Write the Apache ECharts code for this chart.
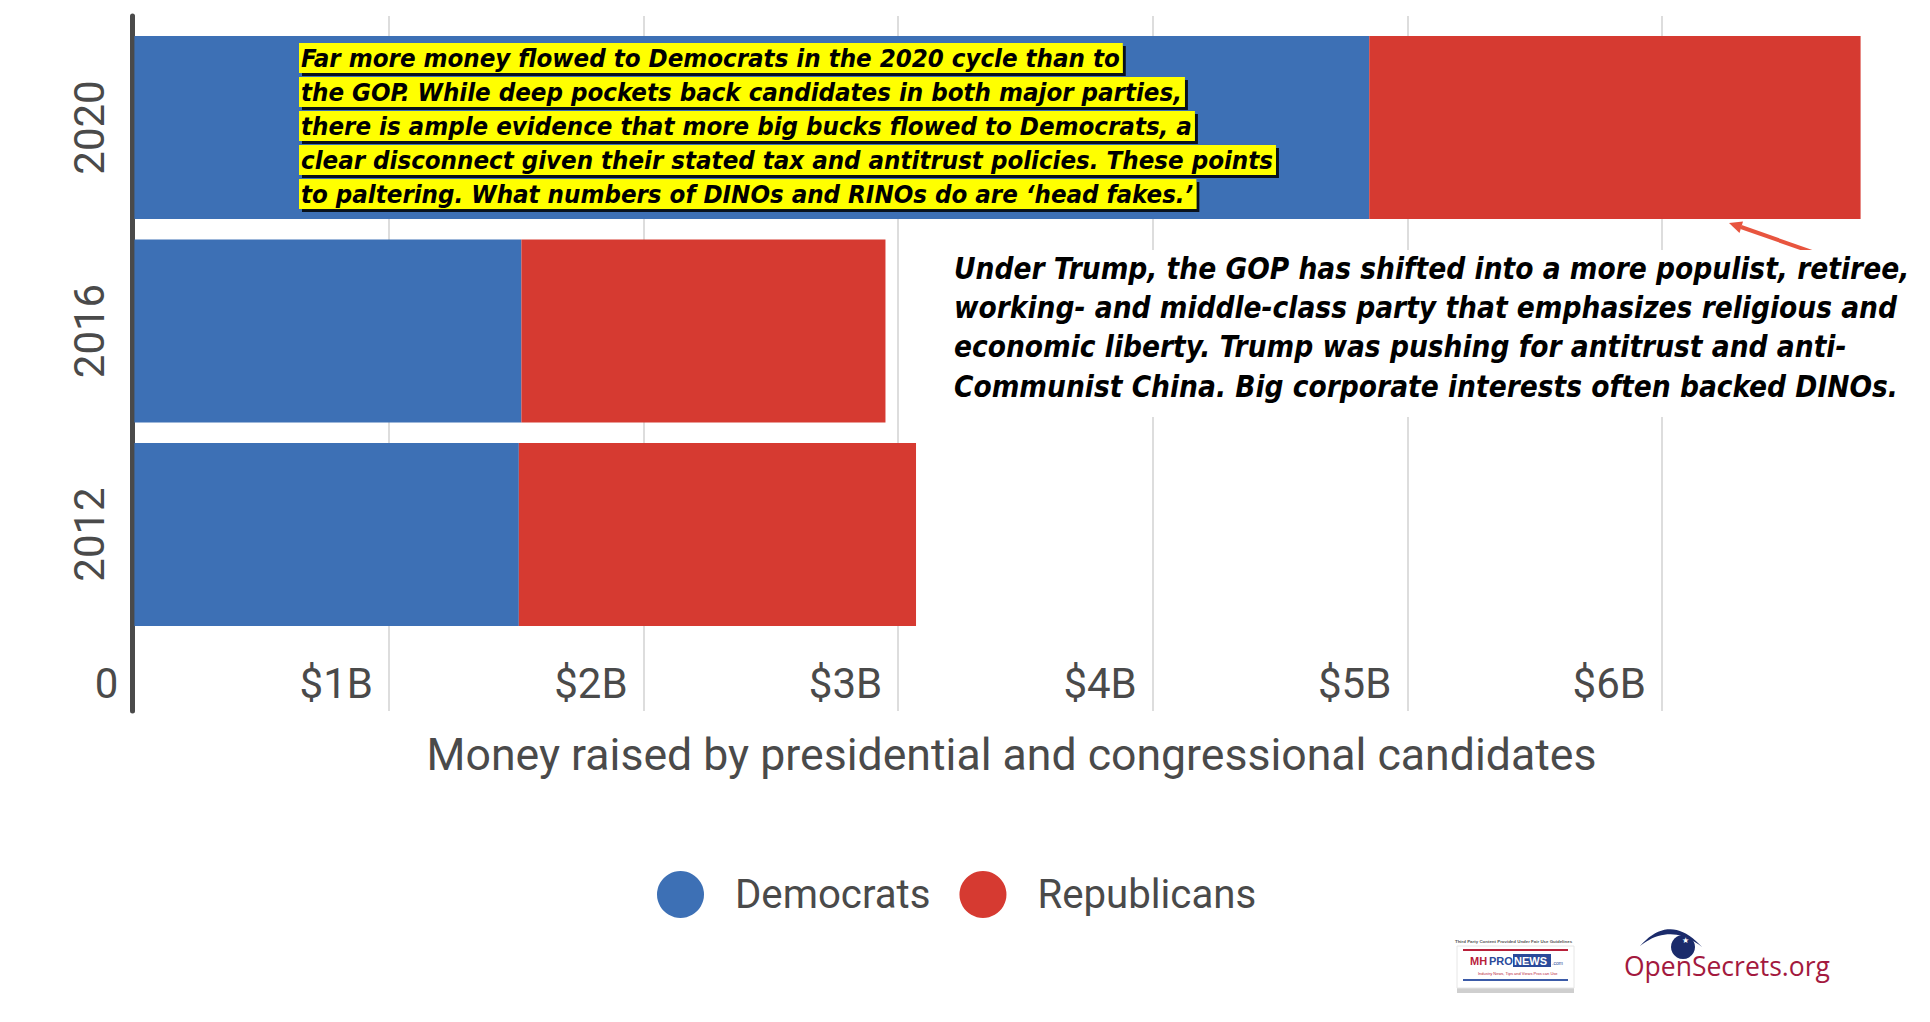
<!DOCTYPE html>
<html>
<head>
<meta charset="utf-8">
<script src="https://cdn.jsdelivr.net/npm/echarts@6/dist/echarts.min.js"></script>
<style>html,body{margin:0;padding:0;background:#fff}#c{width:1930px;height:1022px}</style>
</head>
<body>
<div id="c"></div>
<script>
const years = ['2012', '2016', '2020'];
const democrats = [1.51, 1.52, 4.85];
const republicans = [1.56, 1.43, 1.93];
const seriesNames = ['Democrats', 'Republicans'];
const axisTitle = 'Money raised by presidential and congressional candidates';
const note1 = [
  'Far more money flowed to Democrats in the 2020 cycle than to',
  'the GOP. While deep pockets back candidates in both major parties,',
  'there is ample evidence that more big bucks flowed to Democrats, a',
  'clear disconnect given their stated tax and antitrust policies. These points',
  'to paltering. What numbers of DINOs and RINOs do are \u2018head fakes.\u2019'
];
const note2 = [
  'Under Trump, the GOP has shifted into a more populist, retiree,',
  'working- and middle-class party that emphasizes religious and',
  'economic liberty. Trump was pushing for antitrust and anti-',
  'Communist China. Big corporate interests often backed DINOs.'
];

const BLUE = '#3d70b5', RED = '#d63a31', GRAY = '#4a4a4a';
const annFont = "'DejaVu Sans Condensed', 'DejaVu Sans', sans-serif";

const chart = echarts.init(document.getElementById('c'), null, {renderer: 'svg'});

function quad(p0, p1, p2, n) {
  const pts = [];
  for (let i = 0; i <= n; i++) {
    const t = i / n, a = (1 - t) * (1 - t), b = 2 * (1 - t) * t, c = t * t;
    pts.push([a * p0[0] + b * p1[0] + c * p2[0], a * p0[1] + b * p1[1] + c * p2[1]]);
  }
  return pts;
}
const crescent = quad([1640, 946], [1670, 912], [1702, 947], 20)
  .concat(quad([1702, 947], [1670, 922], [1640, 946], 20));

const graphics = [];
note1.forEach((t, i) => {
  graphics.push({
    type: 'text', z: 20, x: 299, y: 43 + i * 34,
    style: {
      text: t, fill: '#000', fontSize: 25.6, fontWeight: 'bold', fontStyle: 'italic',
      fontFamily: annFont, lineHeight: 26, backgroundColor: '#ffff00',
      padding: [2, 3, 2, 2], verticalAlign: 'top', align: 'left',
      shadowColor: 'rgba(0,0,0,0.85)', shadowOffsetX: 3, shadowOffsetY: 3, shadowBlur: 1
    }
  });
});
graphics.push({type: 'polyline', z: 15, shape: {points: [[1741, 227], [1832, 259]]},
  style: {stroke: '#e8553f', lineWidth: 4, fill: null}});
graphics.push({type: 'polygon', z: 15, shape: {points: [[1729, 223], [1743, 221.5], [1739.5, 233]]},
  style: {fill: '#e8553f'}});
graphics.push({type: 'rect', z: 16, shape: {x: 945, y: 250, width: 985, height: 167}, style: {fill: '#fff'}});
graphics.push({
  type: 'text', z: 20, x: 954, y: 249,
  style: {
    text: note2.join('\n'), fill: '#000', fontSize: 29.5, fontWeight: 'bold', fontStyle: 'italic',
    fontFamily: annFont, lineHeight: 39.3, verticalAlign: 'top', align: 'left'
  }
});
function t(x, y, text, size, fill, weight) {
  return {type: 'text', x: x, y: y, style: {text: text, fontSize: size, fontWeight: weight || 'normal',
    fill: fill, fontFamily: "'Liberation Sans Narrow', 'Liberation Sans', sans-serif", verticalAlign: 'top', align: 'left'}};
}
graphics.push({type: 'group', z: 20, children: [
  t(1455, 939, 'Third Party Content Provided Under Fair Use Guidelines', 4.4, '#555', 'bold'),
  {type: 'rect', shape: {x: 1457, y: 986, width: 117, height: 7}, style: {fill: '#cfcfcf'}},
  {type: 'rect', shape: {x: 1457, y: 946, width: 117, height: 42}, style: {fill: '#fff', stroke: '#e6e6e6', lineWidth: 1}},
  {type: 'rect', shape: {x: 1463, y: 949, width: 105, height: 2}, style: {fill: '#b8203a'}},
  t(1470, 955, 'MH', 11, '#b8203a', 'bold'),
  t(1489, 955, 'PRO', 11, '#2a4a9a', 'bold'),
  {type: 'rect', shape: {x: 1513, y: 954, width: 38, height: 13}, style: {fill: '#2a4a9a'}},
  t(1514, 955, 'NEWS', 11, '#fff', 'bold'),
  t(1552, 960, '.com', 5, '#2a4a9a'),
  t(1478, 971, 'Industry News, Tips and Views Pros can Use', 4, '#b8203a'),
  {type: 'rect', shape: {x: 1463, y: 979, width: 105, height: 2}, style: {fill: '#3b5ba8'}}
]});
graphics.push({type: 'group', z: 20, children: [
  {type: 'polygon', shape: {points: crescent}, style: {fill: '#1b2b6b'}},
  {type: 'circle', shape: {cx: 1683, cy: 947, r: 12}, style: {fill: '#1b2b6b'}},
  {type: 'text', x: 1682, y: 936, style: {text: '\u2605', fontSize: 8, fill: '#fff', verticalAlign: 'top'}},
  {type: 'text', x: 1624, y: 952, style: {text: 'OpenSecrets.org', fontSize: 26.5, fill: '#a3193e',
    fontFamily: "'Open Sans', sans-serif", verticalAlign: 'top'}}
]});

chart.setOption({
  animation: false,
  color: [BLUE, RED],
  textStyle: {fontFamily: 'Roboto, sans-serif'},
  grid: [
    {left: 134.4, right: 13.4, top: 25.75, height: 610.5, containLabel: false},
    {left: 134.4, right: 13.4, top: 16, bottom: 311, containLabel: false}
  ],
  legend: {
    data: seriesNames, left: 657, top: 871, padding: 0, icon: 'circle', itemWidth: 47, itemHeight: 47, itemGap: 29,
    textStyle: {fontSize: 40.2, color: GRAY, padding: [0, 0, 0, 26]}
  },
  xAxis: [
    {type: 'value', gridIndex: 0, min: 0, max: 7, interval: 1, show: false},
    {type: 'value', gridIndex: 1, min: 0, max: 7, interval: 1,
      axisLine: {show: false}, axisTick: {show: false},
      splitLine: {show: true, showMinLine: false, showMaxLine: false, lineStyle: {color: '#dddddd', width: 2}},
      axisLabel: {
        showMaxLabel: false, margin: -28, verticalAlign: 'middle', align: 'right',
        padding: [0, 16, 0, 0], fontSize: 42, color: GRAY,
        formatter: v => v === 0 ? '0' : '$' + v + 'B'
      },
      name: axisTitle, nameLocation: 'middle', nameGap: 21,
      nameTextStyle: {fontSize: 44.6, color: GRAY, padding: [0, 28, 0, 0]}
    }
  ],
  yAxis: [
    {type: 'category', gridIndex: 0, data: years,
      axisLine: {show: false}, axisTick: {show: false},
      axisLabel: {rotate: 90, fontSize: 42, color: GRAY, margin: 24}},
    {type: 'value', gridIndex: 1, min: 0, max: 1, offset: 2.4,
      axisLine: {show: true, onZero: false, lineStyle: {color: GRAY, width: 5}},
      axisTick: {show: false}, axisLabel: {show: false}, splitLine: {show: false}}
  ],
  series: [
    {name: seriesNames[0], type: 'bar', stack: 'total', xAxisIndex: 0, yAxisIndex: 0,
      barCategoryGap: '10%', data: democrats, itemStyle: {color: BLUE}},
    {name: seriesNames[1], type: 'bar', stack: 'total', xAxisIndex: 0, yAxisIndex: 0,
      barCategoryGap: '10%', data: republicans, itemStyle: {color: RED}}
  ],
  graphic: graphics
});
</script>
</body>
</html>
